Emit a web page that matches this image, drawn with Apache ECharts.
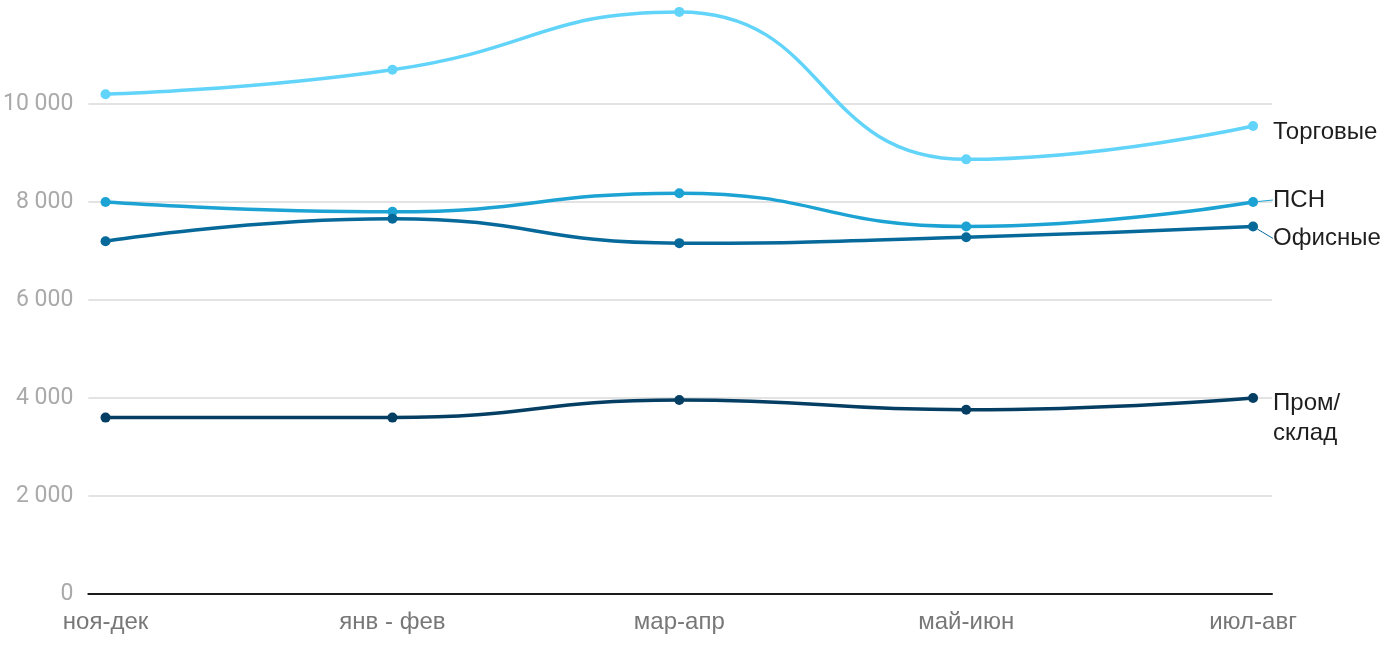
<!DOCTYPE html>
<html><head><meta charset="utf-8">
<script src="https://cdn.jsdelivr.net/npm/echarts@6/dist/echarts.min.js"></script>
<style>html,body{margin:0;padding:0;background:#fff}#c{width:1400px;height:650px}</style>
</head><body><div id="c"></div>
<script>
const categories = ['ноя-дек', 'янв - фев', 'мар-апр', 'май-июн', 'июл-авг'];
const torgovye = [10200, 10700, 11880, 8870, 9550];
const psn = [8000, 7800, 8180, 7500, 8000];
const ofisnye = [7200, 7660, 7160, 7280, 7500];
const prom = [3600, 3600, 3960, 3760, 4000];
const seriesNames = ['Торговые', 'ПСН', 'Офисные', 'Пром/\nсклад'];
const yTicks = [0, 2000, 4000, 6000, 8000, 10000];

const colors = ['#62d4fa', '#1ca3d3', '#07699a', '#053e63'];
const labelShift = [6, -2, 12, 20];
const guide = [false, true, true, false];
const allData = [torgovye, psn, ofisnye, prom];

const chart = echarts.init(document.getElementById('c'));
chart.setOption({
  animation: false,
  grid: { left: 88, right: 128, top: 6, bottom: 56, containLabel: false },
  xAxis: {
    type: 'value', min: -0.06, max: 4.066,
    axisLine: { show: true, onZero: false, lineStyle: { color: '#1a1a1a', width: 2 } },
    axisTick: { show: false },
    splitLine: { show: false },
    axisLabel: {
      customValues: [0, 1, 2, 3, 4],
      formatter: v => categories[Math.round(v)],
      color: '#777', fontSize: 24, margin: 16,
      fontFamily: 'Liberation Sans, Arial, sans-serif'
    }
  },
  yAxis: {
    type: 'value', min: 0, max: 12000, interval: 2000,
    axisLine: { show: false }, axisTick: { show: false },
    axisLabel: {
      showMaxLabel: false,
      formatter: v => yTicks.includes(v) ? String(v).replace(/\B(?=(\d{3})+(?!\d))/g, ' ') : '',
      color: '#aaa', fontSize: 23, margin: 15, padding: [5, 0, 0, 0], fontFamily: 'Roboto, sans-serif'
    },
    splitLine: { lineStyle: { color: ['#e3e3e3', '#e3e3e3', '#e3e3e3', '#e3e3e3', '#e3e3e3', '#e3e3e3', 'rgba(0,0,0,0)'], width: 2 } }
  },
  series: allData.map((arr, i) => ({
    name: seriesNames[i],
    type: 'line',
    smooth: 0.5,
    symbol: 'circle', symbolSize: 10,
    itemStyle: { color: colors[i] },
    lineStyle: { color: colors[i], width: 3.5 },
    labelLayout: { dy: labelShift[i] },
    labelLine: { show: guide[i], length2: 0, lineStyle: { color: colors[i], width: 1 } },
    data: arr.map((v, j) => ({
      value: [j, v],
      label: j === arr.length - 1 ? {
        show: true, position: 'right', distance: 15,
        formatter: seriesNames[i],
        color: '#1e1e1e', fontSize: 24, lineHeight: 30,
        fontFamily: 'Liberation Sans, Arial, sans-serif'
      } : { show: false }
    }))
  }))
});
</script></body></html>
